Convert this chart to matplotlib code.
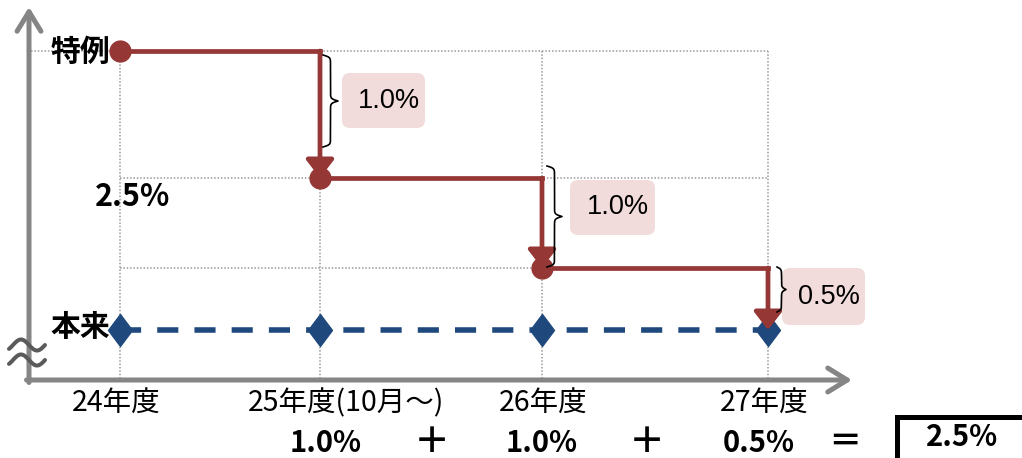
import numpy as np
import matplotlib
matplotlib.use("Agg")
import matplotlib.pyplot as plt
from matplotlib.patches import FancyArrowPatch, FancyBboxPatch, Rectangle
from matplotlib.path import Path
from matplotlib.transforms import IdentityTransform

plt.rcParams["font.family"] = ["Noto Sans CJK JP", "DejaVu Sans"]

# ---- data -------------------------------------------------------------
years = ["24年度", "25年度(10月～)", "26年度", "27年度"]
year_pos = [0.0, 1.0, 2.11, 3.24]          # schematic time positions
cuts = [1.0, 1.0, 0.5]                      # reduction in each step (%)
total_cut = 2.5                             # gap between 特例 and 本来 (%)
special = [total_cut - c for c in np.concatenate([[0.0], np.cumsum(cuts)])]
base = [0.0, 0.0, 0.0, 0.0]

RED = "#953735"
BLUE = "#1F497D"
GRID = "#9A9A9A"
AXIS = "#858585"
PINK = "#F2DCDB"

W, H = 1022, 458
fig = plt.figure(figsize=(W / 100, H / 100), dpi=100)
ax = fig.add_axes([0, 0, 1, 1])
ax.set_axis_off()

# schematic (non-proportional) vertical scale
lv = [-10.0, 0.0, 0.5, 1.5, 2.5, 12.0]
ps = [-1240.0, 0.0, 62.0, 152.0, 279.0, 279.0 + 9.5 * 128]
fwd = lambda v: np.interp(v, lv, ps)
inv = lambda p: np.interp(p, ps, lv)
ax.set_yscale("function", functions=(fwd, inv))
ax.set_xlim(-0.6, 4.51)
ax.set_ylim(float(inv(-128)), float(inv(330)))

ID = IdentityTransform()


def pxy(xp, yp):
    """top-left pixel position -> display coordinates"""
    return (xp, H - yp)


def frac(xp, yp):
    return (xp / W, 1 - yp / H)


# ---- grid ---------------------------------------------------------------
inv_data = ax.transData.inverted()
x_axis_left = inv_data.transform(pxy(31, 0))[0]
y_axis_bottom = inv_data.transform(pxy(0, 380))[1]
dot = dict(color=GRID, lw=1.1, linestyle=(0, (1, 1.2)), zorder=1)
ax.plot([x_axis_left, year_pos[-1]], [special[0]] * 2, **dot)
for lvl in special[1:3]:
    ax.plot([year_pos[0], year_pos[-1]], [lvl, lvl], **dot)
for xp in year_pos:
    ax.plot([xp, xp], [special[0], y_axis_bottom], **dot)

# ---- axes arrows ----------------------------------------------------------
for a, b in [((29, 382.5), (29, 7)), ((26.5, 380), (852, 380))]:
    ax.add_patch(FancyArrowPatch(pxy(*a), pxy(*b), transform=ID,
                                 arrowstyle="->,head_length=14,head_width=8.6",
                                 mutation_scale=1, lw=3.6, color=AXIS,
                                 shrinkA=0, shrinkB=0, zorder=2))

# axis break mark
xs = np.linspace(9, 45, 80)
for yc in (345, 360):
    ys = yc - 5.5 * np.sin(2 * np.pi * (xs - 13) / 32)
    ax.plot(xs, H - ys, transform=ID, color="#5A5A5A", lw=2.9,
            solid_capstyle="round", zorder=3)

# ---- base level (本来) -----------------------------------------------------
ax.plot(year_pos, base, color=BLUE, lw=4, dashes=(3.8, 2.9), zorder=3)
diamond = Path([(0, 1), (0.75, 0), (0, -1), (-0.75, 0), (0, 1)],
               [Path.MOVETO, Path.LINETO, Path.LINETO, Path.LINETO, Path.CLOSEPOLY])
ax.plot(year_pos, base, linestyle="none", marker=diamond, ms=23,
        color=BLUE, zorder=4)

# ---- special level (特例) stepping down ------------------------------------
for i in range(len(cuts)):
    ax.plot([year_pos[i], year_pos[i + 1]], [special[i]] * 2, color=RED,
            lw=3.4, solid_capstyle="projecting", zorder=5)
    ax.add_patch(FancyArrowPatch((year_pos[i + 1], special[i]),
                                 (year_pos[i + 1], special[i + 1]),
                                 arrowstyle="-|>,head_length=11,head_width=8.5",
                                 mutation_scale=1, lw=3.4, color=RED,
                                 shrinkA=0, shrinkB=0, zorder=6))
ax.plot(year_pos[:3], special[:3], "o", ms=15, color=RED, zorder=6)


# ---- braces and reduction labels -------------------------------------------
def brace(x0, y0, y1, w, b=0.9):
    hh = (y1 - y0) / 2
    u = np.linspace(0, hh, 200)
    f = 1 / (1 + np.exp(-b * u)) + 1 / (1 + np.exp(-b * (u - hh)))
    xh = x0 + w * (f - 0.5)
    bx = np.concatenate([xh, xh[-2::-1]])
    by = np.concatenate([y0 + u, y1 - u[-2::-1]])
    ax.plot(bx, H - by, transform=ID, color="black", lw=1.2, zorder=7)


brace_spans = [(323, 55, 147, 15), (547, 166, 267, 15), (777, 267, 312, 9)]
boxes = [(342, 73, 83, 55), (570, 180, 85, 55), (782, 268, 83, 57)]
for c, (bx0, by0, by1, bw), (rx, ry, rw, rh) in zip(cuts, brace_spans, boxes):
    brace(bx0, by0, by1, bw)
    ax.add_patch(FancyBboxPatch((rx, H - ry - rh), rw, rh,
                                boxstyle="round,pad=0,rounding_size=8",
                                transform=ID, fc=PINK, ec="none", zorder=6))
    ax.text(*frac(rx + rw / 2 + 5, ry + rh / 2), f"{c:.1f}%",
            transform=ax.transAxes, ha="center", va="center",
            fontsize=19.5, family="Liberation Sans", zorder=8)

# ---- labels ---------------------------------------------------------------
ax.annotate("特例", (year_pos[0], special[0]), xytext=(-7, -1),
            textcoords="offset points", ha="right", va="center",
            fontsize=21.5, fontweight="bold", zorder=8)
ax.annotate("本来", (year_pos[0], base[0]), xytext=(-7, 2),
            textcoords="offset points", ha="right", va="center",
            fontsize=21.5, fontweight="bold", zorder=8)
ax.text(*frac(133, 197), f"{total_cut:.1f}%", transform=ax.transAxes,
        ha="center", va="center", fontsize=22, fontweight="bold")

year_shift = [-3, 19, 1, -3]
for xp, lab, sh in zip(year_pos, years, year_shift):
    ax.annotate(lab, (xp, y_axis_bottom), xytext=(sh, -17),
                textcoords="offset points", ha="center", va="center",
                fontsize=20.5)

# bottom sum: 1.0% + 1.0% + 0.5% = 2.5%
sum_x = [326, 542, 759]
for c, xp in zip(cuts, sum_x):
    ax.text(*frac(xp, 443), f"{c:.1f}%", transform=ax.transAxes,
            ha="center", va="center", fontsize=21, fontweight="bold")
for xp in (432, 647):
    ax.text(*frac(xp, 442), "＋", transform=ax.transAxes, ha="center",
            va="center", fontsize=26, fontweight="bold")
ax.text(*frac(845, 442), "＝", transform=ax.transAxes, ha="center",
        va="center", fontsize=24, fontweight="bold")
ax.add_patch(Rectangle(pxy(897, 470), 150, 53, transform=ID, fill=False,
                       ec="black", lw=3.6, zorder=8))
ax.text(*frac(962, 437), f"{total_cut:.1f}%", transform=ax.transAxes,
        ha="center", va="center", fontsize=21, fontweight="bold")

fig.savefig("out.png", dpi=100)
